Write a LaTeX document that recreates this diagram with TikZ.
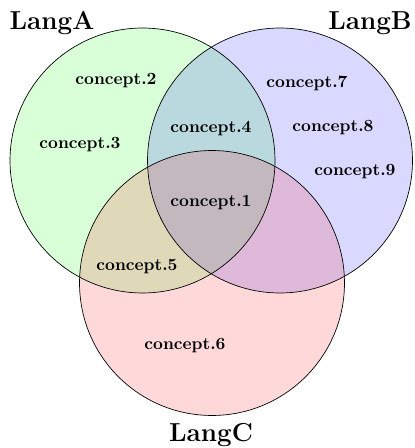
\documentclass[tikz,border=0pt]{standalone}
\usepackage{tikz}
\begin{document}
\begin{tikzpicture}[x=0.585pt,y=-0.585pt,
  concept/.style={font=\bfseries},
  langlabel/.style={font=\fontsize{15.2}{18}\selectfont\bfseries},
  setfill/.style={fill=#1, fill opacity=0.15}]
\useasboundingbox (0,0) rectangle (414,448);
\coordinate (ca) at (142.5,160.5);
\coordinate (cb) at (280,160.5);
\coordinate (cc) at (212,283);
\fill[setfill=green] (ca) circle (77.5pt);
\fill[setfill=blue] (cb) circle (77.5pt);
\fill[setfill=red] (cc) circle (77.5pt);
\draw[black] (ca) circle (77.5pt);
\draw[black] (cb) circle (77.5pt);
\draw[black] (cc) circle (77.5pt);
\node[langlabel] (la) at (52,23) {LangA};
\node[langlabel] (lb) at (370,23) {LangB};
\node[langlabel] (lc) at (211,435) {LangC};
\node[concept] (c1) at (211,203) {concept.1};
\node[concept] (c2) at (116,81) {concept.2};
\node[concept] (c3) at (80,145) {concept.3};
\node[concept] (c4) at (211,129) {concept.4};
\node[concept] (c5) at (137,267) {concept.5};
\node[concept] (c6) at (185,346) {concept.6};
\node[concept] (c7) at (307,83) {concept.7};
\node[concept] (c8) at (333,128) {concept.8};
\node[concept] (c9) at (355,172) {concept.9};
\end{tikzpicture}
\end{document}
